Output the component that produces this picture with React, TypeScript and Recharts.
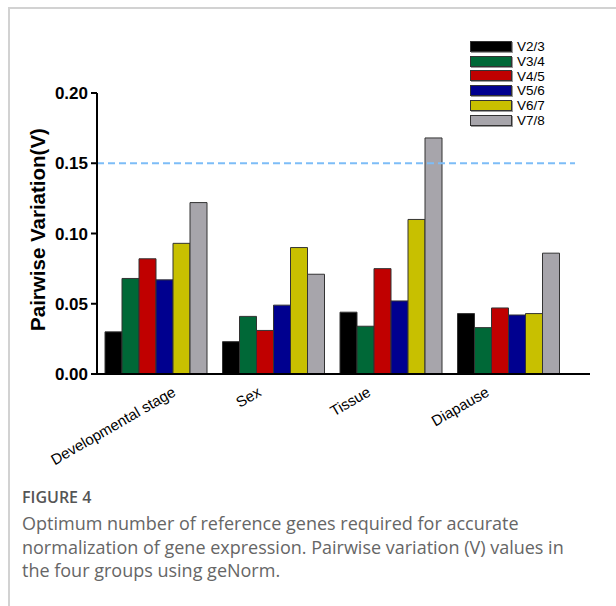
import React from 'react';
import { BarChart, Bar, XAxis, YAxis, ReferenceLine } from 'recharts';

const categories = ['Developmental stage', 'Sex', 'Tissue', 'Diapause'];
const seriesNames = ['V2/3', 'V3/4', 'V4/5', 'V5/6', 'V6/7', 'V7/8'];
const v23 = [0.030, 0.023, 0.044, 0.043];
const v34 = [0.068, 0.041, 0.034, 0.033];
const v45 = [0.082, 0.031, 0.075, 0.047];
const v56 = [0.067, 0.049, 0.052, 0.042];
const v67 = [0.093, 0.090, 0.110, 0.043];
const v78 = [0.122, 0.071, 0.168, 0.086];
const yTicks = [0, 0.05, 0.1, 0.15, 0.2];
const cutoff = 0.15;

const seriesValues = [v23, v34, v45, v56, v67, v78];
const COLORS = ['#000000', '#006837', '#c00000', '#00008f', '#c8c000', '#a7a5ab'];

const data = categories.map((name, i) => {
  const row: Record<string, string | number> = { name };
  seriesNames.forEach((s, j) => {
    row[s] = seriesValues[j][i];
  });
  return row;
});

const ARIAL = '"Liberation Sans", Arial, sans-serif';
// little nudges so the slanted labels sit where the original put them
const LABEL_SHIFT = [21, -11, -19, -18];

function XTick(props: any) {
  const { x, y, payload, index } = props;
  const ax = x + (LABEL_SHIFT[index] ?? 0);
  const ay = y + 19;
  return (
    <text
      x={ax}
      y={ay}
      textAnchor="end"
      transform={`rotate(-30, ${ax}, ${ay})`}
      fontFamily={ARIAL}
      fontSize={15}
      fill="#000"
    >
      {payload.value}
    </text>
  );
}

function YLabel(props: any) {
  const { viewBox } = props;
  const cx = viewBox.x + 37;
  const cy = viewBox.y + viewBox.height / 2 - 4;
  return (
    <text
      x={cx}
      y={cy}
      textAnchor="middle"
      dominantBaseline="central"
      transform={`rotate(-90, ${cx}, ${cy})`}
      fontFamily={ARIAL}
      fontWeight="bold"
      fontSize={20.5}
      fill="#000"
    >
      Pairwise Variation(V)
    </text>
  );
}

function CutLine(props: any) {
  return (
    <line
      x1={props.x1}
      y1={props.y1}
      x2={props.x2 - 15}
      y2={props.y2}
      stroke="#7dbdf7"
      strokeWidth={2}
      strokeDasharray="7 4"
    />
  );
}

export default function App() {
  return (
    <div style={{ position: 'absolute', left: 0, top: 0, width: 616, height: 606, background: '#fff' }}>
      <div
        style={{
          position: 'absolute',
          left: 8,
          top: 7,
          width: 608,
          height: 599,
          borderTop: '2px solid #d2d2d2',
          borderLeft: '2px solid #d2d2d2',
        }}
      />
      <div style={{ position: 'absolute', left: 0, top: 0 }}>
        <BarChart
          width={616}
          height={470}
          data={data}
          margin={{ top: 93, right: 26, bottom: 0, left: 0 }}
          barCategoryGap={8}
          barGap={0}
        >
          <XAxis
            dataKey="name"
            height={96}
            padding={{ left: 0, right: 23 }}
            axisLine={{ stroke: '#000', strokeWidth: 2 }}
            tickLine={false}
            tickSize={0}
            tick={<XTick />}
            interval={0}
          />
          <YAxis
            width={97}
            domain={[0, 0.2]}
            ticks={yTicks}
            tickFormatter={(v: number) => v.toFixed(2)}
            axisLine={{ stroke: '#000', strokeWidth: 2 }}
            tickLine={{ stroke: '#000', strokeWidth: 2 }}
            tickSize={6}
            tickMargin={3}
            tick={{ fontFamily: ARIAL, fontSize: 17, fontWeight: 'bold', fill: '#000' }}
            label={{ content: <YLabel /> }}
          />
          {seriesNames.map((s, j) => (
            <Bar
              key={s}
              dataKey={s}
              fill={COLORS[j]}
              stroke="#333"
              strokeWidth={1}
              isAnimationActive={false}
            />
          ))}
          <ReferenceLine y={cutoff} shape={<CutLine />} />
        </BarChart>
      </div>
      <div style={{ position: 'absolute', left: 470, top: 39, fontFamily: ARIAL, fontSize: 13.5, color: '#000' }}>
        {seriesNames.map((s, j) => (
          <div key={s} style={{ display: 'flex', alignItems: 'center', height: 14.8 }}>
            <div
              style={{
                width: 40,
                height: 9,
                background: COLORS[j],
                border: '1.5px solid #333',
                boxShadow: '1px 1px 0 #999',
                marginRight: 5,
              }}
            />
            <span>{s}</span>
          </div>
        ))}
      </div>
      <div
        style={{
          position: 'absolute',
          left: 22,
          top: 486,
          width: 590,
          fontFamily: '"Open Sans", sans-serif',
          color: '#666',
          whiteSpace: 'nowrap',
        }}
      >
        <div style={{ fontSize: 16, fontWeight: 600, color: '#555', lineHeight: '22px' }}>FIGURE 4</div>
        <div style={{ fontSize: 18, lineHeight: '23.5px', marginTop: 4 }}>
          <div>Optimum number of reference genes required for accurate</div>
          <div>normalization of gene expression. Pairwise variation (V) values in</div>
          <div>the four groups using geNorm.</div>
        </div>
      </div>
    </div>
  );
}
